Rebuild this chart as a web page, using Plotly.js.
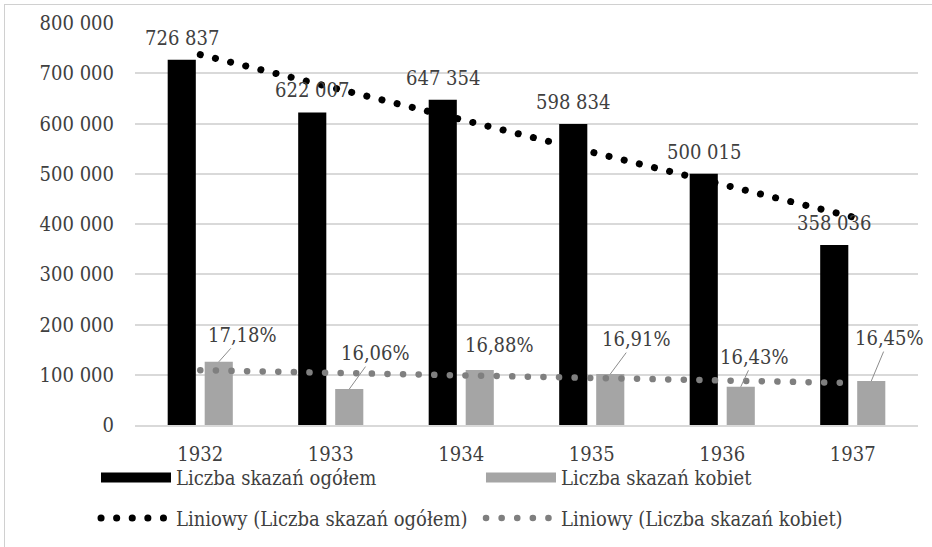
<!DOCTYPE html>
<html>
<head>
<meta charset="utf-8">
<script src="https://cdn.plot.ly/plotly-3.0.1.min.js"></script>
<style>
  html, body { margin: 0; padding: 0; background: #fff; }
  #wrap { position: relative; width: 932px; height: 547px; overflow: hidden; }
  #chart { width: 932px; height: 547px; }
  #frame { position: absolute; left: 4px; top: 4px; width: 940px; height: 560px;
           border: 1px solid #d0d0d0; pointer-events: none; }
  .scatterlayer .js-line, .legend2 .js-line { stroke-linecap: round !important; }
</style>
</head>
<body>
<div id="wrap"><div id="chart"></div><div id="frame"></div></div>
<script>
// ---- data ----
const years = ['1932', '1933', '1934', '1935', '1936', '1937'];
const totalConvictions = [726837, 622007, 647354, 598834, 500015, 358036];
const womenConvictions = [125700, 71400, 109300, 101300, 76000, 87400];
const womenShareLabels = ['17,18%', '16,06%', '16,88%', '16,91%', '16,43%', '16,45%'];
const totalLabels = ['726 837', '622 007', '647 354', '598 834', '500 015', '358 036'];
// trend lines (end points)
const trendYears = ['1932', '1937'];
const totalTrend = [737000, 414000];
const womenTrend = [109000, 83500];

const nameTotal = 'Liczba skazań ogółem';
const nameWomen = 'Liczba skazań kobiet';
const nameTrendTotal = 'Liniowy (Liczba skazań ogółem)';
const nameTrendWomen = 'Liniowy (Liczba skazań kobiet)';

const FONT = 'DejaVu Serif Condensed, DejaVu Serif, serif';
const FS = 20;
const TXT = '#404040';

const traces = [
  { type: 'bar', x: years, y: totalConvictions, name: nameTotal,
    marker: { color: '#000000' }, showlegend: false, hoverinfo: 'x+y' },
  { type: 'bar', x: years, y: womenConvictions, name: nameWomen,
    marker: { color: '#a5a5a5' }, showlegend: false, hoverinfo: 'x+y' },
  { type: 'scatter', mode: 'lines', x: trendYears, y: totalTrend, name: nameTrendTotal,
    line: { color: '#000000', width: 7, dash: '0.1px,15.5px' }, legend: 'legend2', hoverinfo: 'skip' },
  { type: 'scatter', mode: 'lines', x: trendYears, y: womenTrend, name: nameTrendWomen,
    line: { color: '#7f7f7f', width: 6.5, dash: '0.1px,15.5px' }, legend: 'legend2', hoverinfo: 'skip' },
  // legend swatches for the bar series (no marks drawn)
  { type: 'scatter', mode: 'lines', x: [years[0]], y: [null], name: nameTotal,
    line: { color: '#000000', width: 11 }, legend: 'legend', hoverinfo: 'skip' },
  { type: 'scatter', mode: 'lines', x: [years[0]], y: [null], name: nameWomen,
    line: { color: '#a5a5a5', width: 11 }, legend: 'legend', hoverinfo: 'skip' }
];

const annotations = [];
const womenOffsets = [
  { ax: 24, ay: -27, arrow: true },
  { ax: 26, ay: -36, arrow: true },
  { ax: 20, ay: -25, arrow: false },
  { ax: 26, ay: -35, arrow: true },
  { ax: 14, ay: -30, arrow: true },
  { ax: 18, ay: -43, arrow: true }
];
years.forEach((yr, i) => {
  // category index i on the category axis
  annotations.push({
    x: i, y: totalConvictions[i], xref: 'x', yref: 'y',
    text: totalLabels[i], showarrow: false, xshift: -18.5, yshift: 22,
    yanchor: 'middle', font: { family: FONT, size: FS, color: TXT }
  });
  const o = womenOffsets[i];
  if (o.arrow) {
    annotations.push({
      x: i, y: womenConvictions[i], xref: 'x', yref: 'y',
      text: womenShareLabels[i], showarrow: true, arrowhead: 0, arrowwidth: 1,
      arrowcolor: '#8c8c8c', ax: o.ax, ay: o.ay, xshift: 18.5, standoff: 0,
      font: { family: FONT, size: FS, color: TXT }
    });
  } else {
    annotations.push({
      x: i, y: womenConvictions[i], xref: 'x', yref: 'y',
      text: womenShareLabels[i], showarrow: false, xshift: 18.5 + o.ax, yshift: -o.ay,
      yanchor: 'middle', font: { family: FONT, size: FS, color: TXT }
    });
  }
});

const layout = {
  width: 932, height: 547,
  margin: { l: 135, r: 14, t: 23, b: 122, autoexpand: false },
  paper_bgcolor: '#ffffff', plot_bgcolor: '#ffffff',
  separators: ', ',
  font: { family: FONT, size: FS, color: TXT },
  barmode: 'group', bargap: 0.433, bargroupgap: 0.24,
  xaxis: {
    type: 'category', categoryorder: 'array', categoryarray: years,
    range: [-0.5, years.length - 0.5], autorange: false, automargin: false,
    showgrid: false, showline: true, linecolor: '#d9d9d9', linewidth: 2,
    ticks: '', ticklabelstandoff: 10, tickfont: { family: FONT, size: FS, color: TXT },
    fixedrange: true
  },
  yaxis: {
    range: [0, 800000], autorange: false, automargin: false, dtick: 100000, tickformat: ',d',
    showgrid: true, gridcolor: '#d9d9d9', gridwidth: 2, zeroline: false, showline: false,
    ticks: '', ticklabelstandoff: 20, tickfont: { family: FONT, size: FS, color: TXT },
    fixedrange: true
  },
  showlegend: true,
  legend: {
    orientation: 'h', xref: 'container', yref: 'container',
    x: 0.103, xanchor: 'left', y: 0.127, yanchor: 'middle',
    itemwidth: 70, entrywidth: 300, entrywidthmode: 'pixels',
    font: { family: FONT, size: FS, color: TXT }, bgcolor: 'rgba(0,0,0,0)', traceorder: 'normal'
  },
  legend2: {
    orientation: 'h', xref: 'container', yref: 'container',
    x: 0.103, xanchor: 'left', y: 0.053, yanchor: 'middle',
    itemwidth: 70, entrywidth: 300, entrywidthmode: 'pixels',
    font: { family: FONT, size: FS, color: TXT }, bgcolor: 'rgba(0,0,0,0)', traceorder: 'normal'
  },
  annotations: annotations
};

Plotly.newPlot('chart', traces, layout, { displayModeBar: false, staticPlot: true });
</script>
</body>
</html>
